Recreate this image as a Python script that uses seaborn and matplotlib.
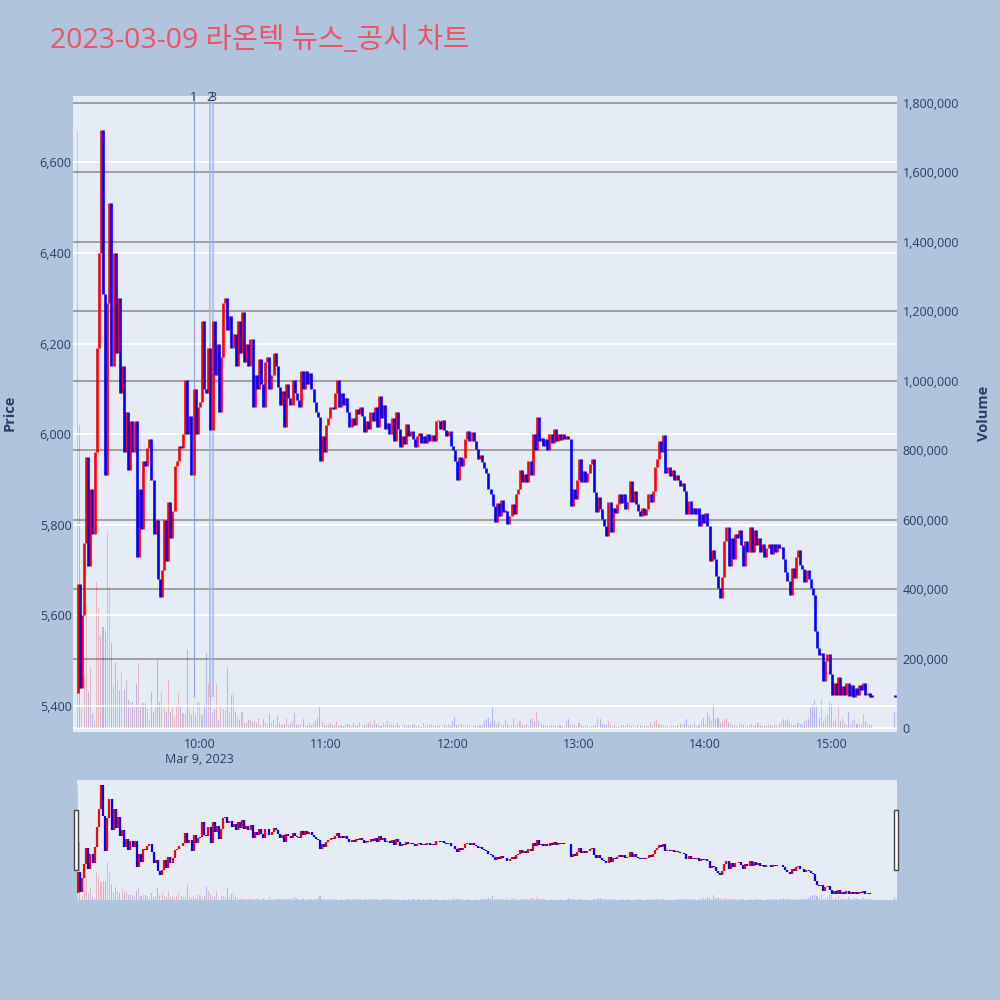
import numpy as np
import pandas as pd
import seaborn as sns
import matplotlib.pyplot as plt
import matplotlib.transforms as mtransforms
from matplotlib.patches import Rectangle
from matplotlib.ticker import FuncFormatter

# --- data (1-minute closes, 09:02 .. 15:19) ---
close_rows = [
    [5670, 5440, 5600, 5760, 5950, 5710, 5880, 5780, 5960, 6190],
    [6400, 6670, 6310, 5910, 6290, 6510, 6150, 6400, 6180, 6300],
    [6090, 6150, 5960, 6050, 5920, 6030, 5960, 6030, 5730, 5880],
    [5790, 5940, 5930, 5970, 5990, 5900, 5780, 5810, 5680, 5640],
    [5700, 5810, 5720, 5850, 5770, 5830, 5930, 5940, 5975, 5970],
    [6000, 6120, 6000, 6040, 5910, 6100, 6000, 6060, 6070, 6250],
    [6100, 6090, 6190, 6010, 6250, 6130, 6200, 6050, 6170, 6290],
    [6300, 6230, 6260, 6190, 6220, 6150, 6250, 6180, 6270, 6160],
    [6200, 6150, 6210, 6060, 6130, 6100, 6165, 6110, 6060, 6160],
    [6170, 6100, 6130, 6178, 6150, 6105, 6065, 6095, 6015, 6110],
    [6080, 6065, 6120, 6090, 6075, 6060, 6140, 6100, 6140, 6110],
    [6135, 6100, 6070, 6050, 6038, 5940, 5995, 5960, 6020, 6035],
    [6060, 6055, 6090, 6120, 6060, 6090, 6065, 6080, 6050, 6015],
    [6035, 6020, 6055, 6045, 6060, 6040, 6005, 6028, 6012, 6050],
    [6030, 6060, 6015, 6085, 6035, 6065, 6012, 6025, 6000, 6035],
    [5985, 6048, 6012, 5972, 5995, 5978, 6022, 5995, 6008, 5990],
    [5972, 5995, 6002, 5980, 5995, 5980, 6000, 5985, 5998, 5985],
    [6028, 6030, 6012, 6032, 6010, 5995, 6008, 5975, 5965, 5940],
    [5900, 5950, 5930, 5948, 5990, 6008, 5985, 6005, 5985, 5968],
    [5945, 5955, 5938, 5925, 5915, 5880, 5868, 5842, 5806, 5848],
    [5820, 5855, 5828, 5830, 5802, 5820, 5845, 5825, 5868, 5880],
    [5920, 5895, 5912, 5895, 5940, 5910, 6000, 5965, 6038, 5985],
    [5992, 5975, 5990, 5965, 6000, 5980, 6012, 5985, 6000, 5988],
    [6000, 5990, 5995, 5990, 5842, 5880, 5858, 5898, 5945, 5895],
    [5918, 5895, 5915, 5935, 5945, 5872, 5828, 5862, 5835, 5812],
    [5798, 5776, 5850, 5785, 5838, 5826, 5845, 5868, 5848, 5868],
    [5835, 5850, 5897, 5850, 5875, 5845, 5830, 5820, 5838, 5822],
    [5835, 5868, 5850, 5875, 5928, 5945, 5985, 5960, 5998, 5915],
    [5928, 5908, 5920, 5900, 5910, 5898, 5885, 5893, 5875, 5824],
    [5853, 5825, 5838, 5824, 5838, 5798, 5825, 5805, 5826, 5798],
    [5720, 5745, 5725, 5688, 5660, 5638, 5685, 5765, 5795, 5710],
    [5772, 5725, 5780, 5770, 5788, 5755, 5710, 5765, 5740, 5795],
    [5740, 5788, 5755, 5770, 5740, 5758, 5728, 5750, 5758, 5735],
    [5758, 5740, 5758, 5748, 5752, 5725, 5696, 5675, 5645, 5705],
    [5682, 5728, 5744, 5712, 5702, 5674, 5700, 5680, 5660, 5645],
    [5565, 5528, 5512, 5518, 5455, 5500, 5515, 5470, 5425, 5452],
    [5424, 5465, 5425, 5445, 5424, 5450, 5422, 5447, 5421, 5440],
    [5424, 5447, 5435, 5452, 5424, 5430, 5421, 5420],
]

# volume per minute, thousands of shares
volume_rows = [
    [1720, 873, 60, 148, 354, 103, 173, 40, 20, 421],
    [345, 268, 291, 280, 565, 406, 244, 124, 190, 138],
    [110, 158, 110, 138, 81, 76, 76, 66, 128, 187],
    [61, 71, 71, 56, 27, 105, 46, 61, 196, 76],
    [105, 61, 46, 138, 46, 61, 32, 61, 100, 61],
    [42, 42, 225, 51, 37, 61, 37, 76, 71, 37],
    [61, 216, 128, 95, 42, 56, 128, 22, 61, 56],
    [51, 176, 42, 95, 100, 46, 32, 22, 46, 13],
    [13, 22, 27, 18, 20, 15, 30, 10, 25, 15],
    [12, 40, 18, 22, 10, 35, 14, 8, 12, 30],
    [9, 15, 20, 43, 10, 8, 12, 25, 6, 10],
    [15, 8, 12, 20, 30, 60, 18, 10, 8, 12],
    [15, 10, 8, 20, 6, 10, 5, 8, 12, 9],
    [6, 15, 10, 8, 18, 6, 10, 12, 15, 20],
    [8, 25, 12, 10, 6, 14, 8, 20, 10, 12],
    [8, 6, 15, 5, 4, 10, 6, 8, 5, 12],
    [8, 6, 10, 4, 15, 6, 8, 10, 12, 5],
    [8, 10, 6, 4, 8, 5, 12, 6, 20, 32],
    [10, 8, 12, 5, 6, 10, 8, 4, 6, 8],
    [5, 10, 8, 20, 25, 30, 15, 60, 20, 12],
    [18, 10, 8, 25, 12, 6, 10, 30, 8, 15],
    [20, 10, 8, 12, 6, 25, 30, 20, 46, 20],
    [15, 10, 8, 6, 5, 8, 10, 6, 5, 8],
    [6, 4, 20, 25, 10, 12, 8, 6, 15, 10],
    [6, 8, 5, 4, 6, 8, 10, 30, 25, 12],
    [10, 8, 20, 10, 6, 8, 5, 4, 8, 10],
    [6, 12, 8, 5, 6, 4, 8, 10, 6, 5],
    [8, 6, 15, 10, 20, 25, 12, 10, 8, 6],
    [5, 4, 8, 6, 5, 10, 12, 8, 15, 25],
    [10, 8, 6, 12, 5, 8, 20, 30, 12, 43],
    [35, 20, 69, 25, 30, 15, 20, 25, 30, 18],
    [12, 10, 8, 6, 12, 8, 10, 6, 5, 8],
    [12, 6, 10, 15, 8, 5, 6, 10, 12, 8],
    [6, 10, 8, 12, 20, 25, 20, 25, 18, 12],
    [10, 8, 15, 12, 10, 20, 25, 25, 60, 70],
    [80, 65, 30, 80, 20, 30, 40, 75, 70, 20],
    [25, 60, 20, 30, 15, 10, 47, 8, 20, 25],
    [12, 15, 10, 40, 20, 12, 8, 10],
]

first_open = 5430
first_time = "2023-03-09 09:02"
session_start = "2023-03-09 09:00"
auction_time = "2023-03-09 15:30"
auction_close = 5420
auction_volume = 47

news_times = ["2023-03-09 09:57", "2023-03-09 10:05", "2023-03-09 10:06"]
news_labels = ["1", "2", "3"]
news_low = 5420

price_ticks = [5400, 5600, 5800, 6000, 6200, 6400, 6600]
volume_ticks = [0, 200000, 400000, 600000, 800000, 1000000, 1200000, 1400000, 1600000, 1800000]
hour_labels = ["10:00\nMar 9, 2023", "11:00", "12:00", "13:00", "14:00", "15:00"]
hour_minutes = [60, 120, 180, 240, 300, 360]

title = "2023-03-09 라온텍 뉴스_공시 차트"

# --- colours ---
PAGE_BG = "#B0C4DE"
PLOT_BG = "#E5ECF6"
RED = "#FF0000"
BLUE = "#0000FF"
TXT = "#2a3f5f"

sns.set_style("white")
plt.rcParams['font.family'] = ['Open Sans', 'Noto Sans CJK KR', 'DejaVu Sans']

close = [v for row in close_rows for v in row] + [auction_close]
volume = [v * 1000 for row in volume_rows for v in row] + [auction_volume * 1000]
times = list(pd.date_range(first_time, periods=len(close) - 1, freq="min")) + [pd.Timestamp(auction_time)]

df = pd.DataFrame({"time": times, "close": close, "volume": volume})
df["open"] = df["close"].shift(1).fillna(first_open)
df["minute"] = (df["time"] - pd.Timestamp(session_start)).dt.total_seconds() / 60
df["dir"] = np.where(df["close"] > df["open"], "up", "down")
df["low"] = df[["open", "close"]].min(axis=1)
df["high"] = np.maximum(df[["open", "close"]].max(axis=1), df["low"] + 4)

palette = {"up": RED, "down": BLUE}


def draw_candles(ax, lw):
    # 1-minute candles are only ~2 px wide, so each is drawn as a thick stroke
    for d in ["up", "down"]:
        s = df[df["dir"] == d]
        ax.vlines(s["minute"], s["low"], s["high"], colors=palette[d],
                  linewidth=lw, capstyle="butt", zorder=3)


def draw_volume(ax):
    sns.histplot(data=df, x="minute", weights="volume", hue="dir",
                 hue_order=["up", "down"], palette=palette,
                 binwidth=1, binrange=(1.5, 391.5),
                 shrink=0.5, alpha=0.23, linewidth=0, legend=False, ax=ax)
    ax.set_xlabel("")
    ax.set_ylabel("")


def clean(ax):
    for sp in ax.spines.values():
        sp.set_visible(False)


fig = plt.figure(figsize=(10, 10), dpi=100, facecolor=PAGE_BG)

# main chart: price on the left, volume (behind) on the right
ax = fig.add_axes([0.073, 0.268, 0.824, 0.636])
ax2 = ax.twinx()
ax.set_zorder(2)
ax2.set_zorder(1)
ax.patch.set_visible(False)
ax2.patch.set_visible(True)
ax2.set_facecolor(PLOT_BG)

draw_volume(ax2)
for v in volume_ticks[1:]:
    ax2.axhline(v, color="#9a9a9a", lw=1.3, zorder=0.5)
ax2.axhline(0, color="white", lw=1.3, zorder=0.5)
ax2.set_ylim(-11500, 1820000)
ax2.set_yticks(volume_ticks)
ax2.yaxis.set_major_formatter(FuncFormatter(lambda v, p: f"{v:,.0f}"))
ax2.tick_params(axis="y", length=0, pad=4, labelsize=9, labelcolor=TXT)
clean(ax2)

for p in price_ticks:
    ax.axhline(p, color="white", lw=1.3, zorder=1)
draw_candles(ax, 1.9)

trans = mtransforms.blended_transform_factory(ax.transData, ax.transAxes)
for nt, lbl in zip(news_times, news_labels):
    nm = (pd.Timestamp(nt) - pd.Timestamp(session_start)).total_seconds() / 60
    lw, col, al = (0.8, "#7F9BE4", 0.9) if lbl == "1" else (1.4, "#9DB4EE", 0.75)
    ax.vlines(nm, news_low, 6760, color=col, lw=lw, alpha=al, zorder=2)
    ax.text(nm, 0.998, lbl, transform=trans, ha="center", va="center",
            fontsize=9, color=TXT, clip_on=False, zorder=5)

ax.set_xlim(-0.24, 391.0)
ax.set_ylim(5343, 6746)
ax.set_yticks(price_ticks)
ax.yaxis.set_major_formatter(FuncFormatter(lambda v, p: f"{v:,.0f}"))
ax.set_xticks(hour_minutes)
ax.set_xticklabels(hour_labels)
ax.tick_params(axis="both", length=0, labelsize=9, labelcolor=TXT)
ax.tick_params(axis="y", pad=1)
ax.tick_params(axis="x", pad=4)
ax.grid(False)
clean(ax)

fig.text(0.010, 0.587, "Price", rotation=90, ha="center", va="center",
         fontsize=10.5, fontweight="bold", color=TXT)
fig.text(0.984, 0.587, "Volume", rotation=90, ha="center", va="center",
         fontsize=10.5, fontweight="bold", color=TXT)
fig.text(0.050, 0.959, title, ha="left", va="center", fontsize=20.5, color="#EA5465")

# range slider
sl = fig.add_axes([0.077, 0.100, 0.820, 0.120])
sl2 = sl.twinx()
sl.set_zorder(2)
sl2.set_zorder(1)
sl.patch.set_visible(False)
sl2.patch.set_visible(True)
sl2.set_facecolor(PLOT_BG)
draw_volume(sl2)
sl2.set_ylim(0, 1795000)
draw_candles(sl, 1.6)
sl.set_xlim(1.6, 391.0)
sl.set_ylim(5351, 6728)
for a in (sl, sl2):
    a.set_xticks([])
    a.set_yticks([])
    a.grid(False)
    clean(a)

for hx in (0.0743, 0.8935):
    fig.patches.append(Rectangle((hx, 0.130), 0.0040, 0.060, transform=fig.transFigure,
                                 facecolor="white", edgecolor="#444444", lw=1.0, zorder=10))

fig.savefig("out.png", dpi=100, facecolor=PAGE_BG)
